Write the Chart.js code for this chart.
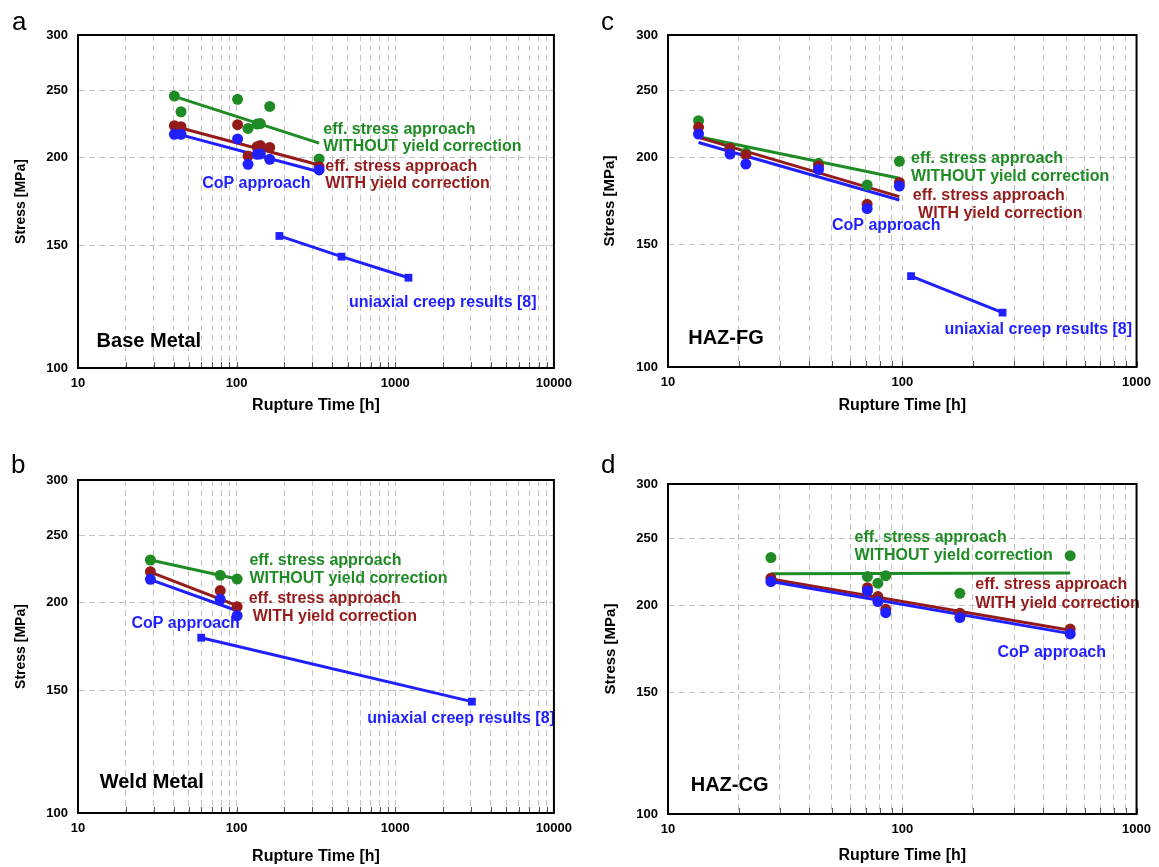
<!DOCTYPE html>
<html>
<head>
<meta charset="utf-8">
<script src="https://cdn.jsdelivr.net/npm/chart.js@4.4.0/dist/chart.umd.min.js"></script>
<style>
  body { margin: 0; background: #fff; width: 1159px; height: 867px; position: relative; overflow: hidden;
         font-family: "Liberation Sans", Arial, sans-serif; }
  canvas { position: absolute; }
  .tag { position: absolute; font-size: 26px; line-height: 26px; color: #000; }
</style>
</head>
<body>
<canvas id="chartA" width="580" height="430" style="left:0;top:0"></canvas>
<canvas id="chartC" width="579" height="430" style="left:580px;top:0"></canvas>
<canvas id="chartB" width="580" height="432" style="left:0;top:435px"></canvas>
<canvas id="chartD" width="579" height="432" style="left:580px;top:435px"></canvas>
<div class="tag" style="left:12px;top:8px">a</div>
<div class="tag" style="left:601px;top:8px">c</div>
<div class="tag" style="left:11px;top:451px">b</div>
<div class="tag" style="left:601px;top:451px">d</div>
<script>
// Base Metal (a)
const BM_TIME = [40.5, 44.6, 101.4, 118, 134.6, 141, 161.6, 331];
const BM_EFF_NOYIELD = [245.3, 232.9, 242.6, 220.4, 223.6, 224, 237, 199.3];
const BM_EFF_YIELD = [222.4, 221.7, 223.2, 201.3, 207.5, 208.3, 207, 194.3];
const BM_COP = [216.2, 216.2, 212.9, 195.8, 202.4, 202.6, 199.1, 192.2];
const BM_FIT_TIME = [40.5, 331];
const BM_FIT_NOYIELD = [245, 210];
const BM_FIT_YIELD = [222, 195.4];
const BM_FIT_COP = [217, 191.1];
const BM_UNI_TIME = [186, 458, 1211];
const BM_UNI_STRESS = [154.6, 144.4, 134.7];

// Weld Metal (b)
const WM_TIME = [28.6, 78.8, 100.7];
const WM_EFF_NOYIELD = [230.4, 219.1, 216.4];
const WM_EFF_YIELD = [221.7, 208.3, 197.5];
const WM_COP = [216.2, 202.4, 191.8];
const WM_FIT_TIME = [28.6, 100.7];
const WM_FIT_NOYIELD = [230.4, 216.4];
const WM_FIT_YIELD = [221.3, 198.2];
const WM_FIT_COP = [216, 194.9];
const WM_UNI_TIME = [59.8, 3041];
const WM_UNI_STRESS = [178.3, 144.4];

// HAZ-FG (c)
const FG_TIME = [13.5, 18.4, 21.5, 43.9, 70.8, 97.2];
const FG_EFF_NOYIELD = [225.9, 207, 203, 196.2, 182.6, 197.5];
const FG_EFF_YIELD = [221, 206.3, 201.7, 194.6, 171.3, 184.2];
const FG_COP = [216.2, 202.3, 195.7, 192.3, 168.9, 182];
const FG_FIT_TIME = [13.5, 97.2];
const FG_FIT_NOYIELD = [214.2, 186.7];
const FG_FIT_YIELD = [213.8, 175.7];
const FG_FIT_COP = [210.2, 173.8];
const FG_UNI_TIME = [109, 268];
const FG_UNI_STRESS = [135.1, 119.7];

// HAZ-CG (d)
const CG_TIME = [27.5, 71, 78.7, 85, 176.1, 521];
const CG_EFF_NOYIELD = [234.8, 220.4, 215.6, 221.1, 208.5, 236.3];
const CG_EFF_YIELD = [219.2, 212.4, 206.2, 197.7, 195.1, 185.1];
const CG_COP = [216.8, 210.1, 202.8, 195.5, 192.3, 182.1];
const CG_FIT_TIME = [27.5, 521];
const CG_FIT_NOYIELD = [222.5, 223];
const CG_FIT_YIELD = [218.7, 184.4];
const CG_FIT_COP = [216.8, 182.3];

const Y_TICKS = [100, 150, 200, 250, 300];
const X_LABELED = [10, 100, 1000, 10000];

const GREEN = '#1f8b24';
const RED = '#951b1b';
const BLUE = '#1f1fff';
const FONT = '"Liberation Sans", Arial, sans-serif';

Chart.defaults.font.family = FONT;

function logTicks(min, max) {
  const t = [];
  for (let d = min; d < max; d *= 10) {
    for (let m = 1; m < 10; m++) t.push(d * m);
  }
  t.push(max);
  return t;
}

function pts(xs, ys) {
  return xs.map((x, i) => ({ x: x, y: ys[i] }));
}

// text labels placed in data coordinates
const notesPlugin = {
  id: 'notes',
  afterDatasetsDraw(chart, args, opts) {
    const { ctx } = chart;
    const x = chart.scales.x, y = chart.scales.y;
    ctx.save();
    ctx.textBaseline = 'middle';
    ctx.textAlign = 'left';
    (opts.items || []).forEach(n => {
      ctx.font = n.font;
      ctx.fillStyle = n.color;
      ctx.fillText(n.text, x.getPixelForValue(n.x), y.getPixelForValue(n.y));
    });
    ctx.restore();
  }
};

// closed black frame plus small inward ticks on the bottom axis
const framePlugin = {
  id: 'frame',
  afterDraw(chart) {
    const { ctx, chartArea: a } = chart;
    const xs = chart.scales.x;
    ctx.save();
    ctx.strokeStyle = '#555';
    ctx.lineWidth = 1;
    xs.ticks.forEach(t => {
      const px = Math.round(xs.getPixelForValue(t.value)) + 0.5;
      ctx.beginPath();
      ctx.moveTo(px, a.bottom);
      ctx.lineTo(px, a.bottom - 6);
      ctx.stroke();
    });
    ctx.strokeStyle = '#000';
    ctx.lineWidth = 2;
    ctx.strokeRect(a.left, a.top, a.right - a.left, a.bottom - a.top);
    ctx.restore();
  }
};

Chart.register(notesPlugin, framePlugin);

const ANN = 'bold 16px ' + FONT;
const NAME = 'bold 20px ' + FONT;

function fitLine(xs, ys, color, order) {
  return { data: pts(xs, ys), showLine: true, borderColor: color, borderWidth: 3,
           pointRadius: 0, order: order };
}
function dots(xs, ys, color, order) {
  return { data: pts(xs, ys), showLine: false, backgroundColor: color, borderWidth: 0,
           pointRadius: 5.5, order: order };
}
function uniaxial(xs, ys) {
  return { data: pts(xs, ys), showLine: true, borderColor: BLUE, borderWidth: 3,
           backgroundColor: BLUE, pointStyle: 'rect', pointRadius: 5.5, pointBorderWidth: 0,
           order: 0 };
}

function makePanel(id, p) {
  new Chart(document.getElementById(id), {
    type: 'scatter',
    data: { datasets: p.datasets },
    options: {
      responsive: false,
      animation: false,
      layout: { padding: { left: 0, top: p.top, right: p.right, bottom: 0 } },
      plugins: { legend: { display: false }, tooltip: { enabled: false }, notes: { items: p.notes } },
      scales: {
        x: {
          type: 'logarithmic', min: 10, max: p.xMax,
          afterBuildTicks: s => { s.ticks = logTicks(10, p.xMax).map(v => ({ value: v })); },
          afterFit: s => { s.height = p.xAxisH; },
          ticks: {
            autoSkip: false, maxRotation: 0, padding: p.xTickPad, color: '#000',
            font: { size: 13, weight: 'bold' },
            callback: v => X_LABELED.includes(v) ? String(v) : ''
          },
          grid: { color: '#c4c4c4', lineWidth: 1, drawTicks: false },
          border: { display: true, color: '#000', width: 2, dash: [6, 4] },
          title: { display: true, text: 'Rupture Time [h]', color: '#000',
                   font: { size: 16, weight: 'bold' }, padding: { top: 0, bottom: p.xTitlePad } }
        },
        y: {
          type: 'logarithmic', min: 100, max: 300,
          afterBuildTicks: s => { s.ticks = Y_TICKS.map(v => ({ value: v })); },
          afterFit: s => { s.width = p.yAxisW; },
          ticks: { padding: 10, color: '#000', font: { size: 13, weight: 'bold' },
                   callback: v => String(v) },
          grid: { color: '#c4c4c4', lineWidth: 1, drawTicks: false },
          border: { display: true, color: '#000', width: 2, dash: [6, 4] },
          title: { display: true, text: 'Stress [MPa]', color: '#000',
                   font: { size: p.yTitleSize, weight: 'bold' }, padding: { top: p.yTitlePad, bottom: 0 } }
        }
      }
    }
  });
}

makePanel('chartA', {
  xMax: 10000, top: 35, right: 23, yAxisW: 78, xAxisH: 62, xTickPad: 8, xTitlePad: 15,
  yTitleSize: 14, yTitlePad: 13,
  datasets: [
    uniaxial(BM_UNI_TIME, BM_UNI_STRESS),
    dots(BM_TIME, BM_COP, BLUE, 1),
    dots(BM_TIME, BM_EFF_YIELD, RED, 2),
    dots(BM_TIME, BM_EFF_NOYIELD, GREEN, 3),
    fitLine(BM_FIT_TIME, BM_FIT_COP, BLUE, 4),
    fitLine(BM_FIT_TIME, BM_FIT_YIELD, RED, 5),
    fitLine(BM_FIT_TIME, BM_FIT_NOYIELD, GREEN, 6)
  ],
  notes: [
    { text: 'eff. stress approach', x: 352, y: 219.3, color: GREEN, font: ANN },
    { text: 'WITHOUT yield correction', x: 352, y: 207.4, color: GREEN, font: ANN },
    { text: 'eff. stress approach', x: 362, y: 194.3, color: RED, font: ANN },
    { text: 'WITH yield correction', x: 362, y: 183.5, color: RED, font: ANN },
    { text: 'CoP approach', x: 60.6, y: 183.5, color: BLUE, font: ANN },
    { text: 'uniaxial creep results [8]', x: 510, y: 124.1, color: BLUE, font: ANN },
    { text: 'Base Metal', x: 13.1, y: 109.3, color: '#000', font: NAME }
  ]
});

makePanel('chartC', {
  xMax: 1000, top: 35, right: 19, yAxisW: 88, xAxisH: 63, xTickPad: 8, xTitlePad: 15,
  yTitleSize: 15, yTitlePad: 21,
  datasets: [
    uniaxial(FG_UNI_TIME, FG_UNI_STRESS),
    dots(FG_TIME, FG_COP, BLUE, 1),
    dots(FG_TIME, FG_EFF_YIELD, RED, 2),
    dots(FG_TIME, FG_EFF_NOYIELD, GREEN, 3),
    fitLine(FG_FIT_TIME, FG_FIT_COP, BLUE, 4),
    fitLine(FG_FIT_TIME, FG_FIT_YIELD, RED, 5),
    fitLine(FG_FIT_TIME, FG_FIT_NOYIELD, GREEN, 6)
  ],
  notes: [
    { text: 'eff. stress approach', x: 109, y: 199.5, color: GREEN, font: ANN },
    { text: 'WITHOUT yield correction', x: 109, y: 187.7, color: GREEN, font: ANN },
    { text: 'eff. stress approach', x: 110.9, y: 176.6, color: RED, font: ANN },
    { text: 'WITH yield correction', x: 116.8, y: 166.3, color: RED, font: ANN },
    { text: 'CoP approach', x: 50.1, y: 159.5, color: BLUE, font: ANN },
    { text: 'uniaxial creep results [8]', x: 151.4, y: 113, color: BLUE, font: ANN },
    { text: 'HAZ-FG', x: 12.2, y: 110, color: '#000', font: NAME }
  ]
});

makePanel('chartB', {
  xMax: 10000, top: 45, right: 24, yAxisW: 78, xAxisH: 54, xTickPad: 8, xTitlePad: 1,
  yTitleSize: 14, yTitlePad: 13,
  datasets: [
    uniaxial(WM_UNI_TIME, WM_UNI_STRESS),
    dots(WM_TIME, WM_COP, BLUE, 1),
    dots(WM_TIME, WM_EFF_YIELD, RED, 2),
    dots(WM_TIME, WM_EFF_NOYIELD, GREEN, 3),
    fitLine(WM_FIT_TIME, WM_FIT_COP, BLUE, 4),
    fitLine(WM_FIT_TIME, WM_FIT_YIELD, RED, 5),
    fitLine(WM_FIT_TIME, WM_FIT_NOYIELD, GREEN, 6)
  ],
  notes: [
    { text: 'eff. stress approach', x: 120.3, y: 229.9, color: GREEN, font: ANN },
    { text: 'WITHOUT yield correction', x: 120.3, y: 216.4, color: GREEN, font: ANN },
    { text: 'eff. stress approach', x: 119.1, y: 203.1, color: RED, font: ANN },
    { text: 'WITH yield correction', x: 126.2, y: 191.1, color: RED, font: ANN },
    { text: 'CoP approach', x: 21.7, y: 186.6, color: BLUE, font: ANN },
    { text: 'uniaxial creep results [8]', x: 666, y: 136.7, color: BLUE, font: ANN },
    { text: 'Weld Metal', x: 13.7, y: 110.5, color: '#000', font: NAME }
  ]
});

makePanel('chartD', {
  xMax: 1000, top: 49, right: 19, yAxisW: 88, xAxisH: 53, xTickPad: 8, xTitlePad: 2,
  yTitleSize: 15, yTitlePad: 22,
  datasets: [
    dots(CG_TIME, CG_COP, BLUE, 1),
    dots(CG_TIME, CG_EFF_YIELD, RED, 2),
    dots(CG_TIME, CG_EFF_NOYIELD, GREEN, 3),
    fitLine(CG_FIT_TIME, CG_FIT_COP, BLUE, 4),
    fitLine(CG_FIT_TIME, CG_FIT_YIELD, RED, 5),
    fitLine(CG_FIT_TIME, CG_FIT_NOYIELD, GREEN, 6)
  ],
  notes: [
    { text: 'eff. stress approach', x: 62.6, y: 251.2, color: GREEN, font: ANN },
    { text: 'WITHOUT yield correction', x: 62.6, y: 236, color: GREEN, font: ANN },
    { text: 'eff. stress approach', x: 205, y: 214.3, color: RED, font: ANN },
    { text: 'WITH yield correction', x: 205, y: 201.7, color: RED, font: ANN },
    { text: 'CoP approach', x: 255, y: 171.3, color: BLUE, font: ANN },
    { text: 'HAZ-CG', x: 12.5, y: 110.1, color: '#000', font: NAME }
  ]
});
</script>
</body>
</html>
